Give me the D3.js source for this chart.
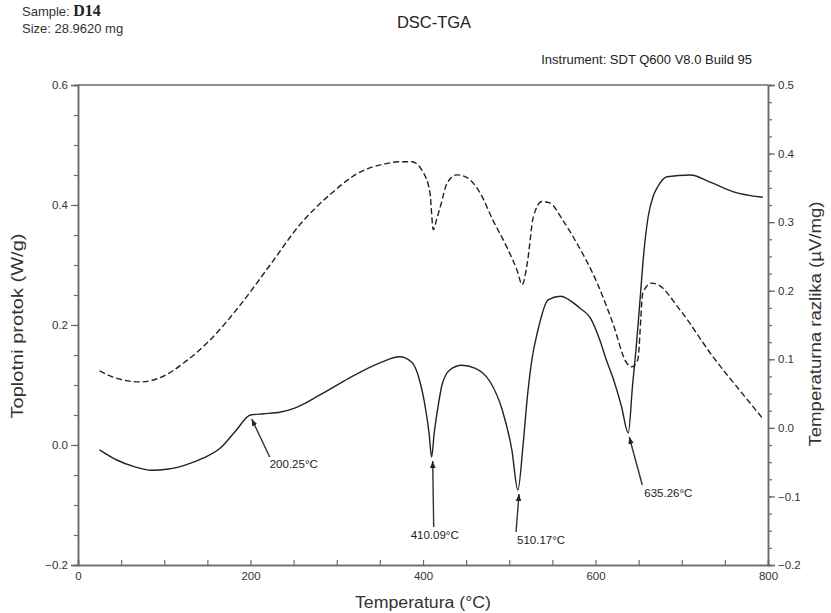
<!DOCTYPE html>
<html>
<head>
<meta charset="utf-8">
<script src="https://cdn.jsdelivr.net/npm/d3@7"></script>
<style>
  html, body { margin: 0; padding: 0; background: #fff; }
  svg { display: block; font-family: "Liberation Sans", Arial, sans-serif; }
</style>
</head>
<body>
<svg id="chart" width="831" height="613"></svg>
<script>
// ---- DATA ----
const dscTemp = [25,45,65,85,105,125,145,165,182,200,215,235,252,280,315,350,373,387,396,403,407,410,413,417,422,431,445,460,478,492,503,510,516,521,526,533,545,559,582,594,605,613,620,630,638,643,647,651,656,661,667,672,683,710,733,760,794];
const heatFlow = [-0.008,-0.025,-0.036,-0.042,-0.04,-0.033,-0.022,-0.005,0.022,0.05,0.052,0.055,0.062,0.083,0.112,0.137,0.147,0.138,0.108,0.06,0.02,-0.02,0.02,0.06,0.1,0.125,0.133,0.128,0.105,0.058,-0.008,-0.075,0.0,0.08,0.14,0.19,0.242,0.248,0.228,0.212,0.175,0.14,0.113,0.065,0.02,0.1,0.16,0.23,0.32,0.38,0.415,0.43,0.447,0.45,0.438,0.422,0.413];

const dtaTemp = [25,43,72,95,124,153,188,223,257,292,327,360,371,387,400,408,412,416,420,428,439,451,466,481,497,509,515,521,528,538,547,562,578,602,620,636,642,649,655,665,672,698,736,767,793];
const tempDiff = [0.083,0.073,0.067,0.073,0.096,0.128,0.179,0.238,0.296,0.34,0.373,0.386,0.388,0.388,0.373,0.343,0.289,0.305,0.322,0.357,0.369,0.365,0.343,0.303,0.264,0.23,0.209,0.241,0.308,0.33,0.328,0.303,0.27,0.211,0.153,0.095,0.089,0.099,0.197,0.211,0.209,0.172,0.104,0.055,0.015];

const xTicks = [0,200,400,600,800];
const leftTicks = [-0.2,0.0,0.2,0.4,0.6];
const rightTicks = [-0.2,-0.1,0.0,0.1,0.2,0.3,0.4,0.5];

const peakLabels = ["200.25°C","410.09°C","510.17°C","635.26°C"];
const peakTemps = [200.25,410.09,510.17,638];
const peakValues = [0.05,-0.02,-0.075,0.02];

// ---- LAYOUT ----
const svg = d3.select("#chart");
const L = 78, R = 768, T = 85, B = 565;
const x = d3.scaleLinear().domain([0,800]).range([L,R]);
const yL = d3.scaleLinear().domain([-0.2,0.6]).range([B,T]);
const yR = d3.scaleLinear().domain([-0.2,0.5]).range([B,T]);
const axisColor = "#6a6a6a", textColor = "#333";

// frame top line
svg.append("line").attr("x1",L).attr("x2",R).attr("y1",T).attr("y2",T).attr("stroke",axisColor).attr("stroke-width",1.5);

// Axes
const fmt = d3.format(".1f");
const gx = svg.append("g").attr("transform",`translate(0,${B})`);
gx.call(d3.axisBottom(x).tickValues(d3.range(0,801,50)).tickSize(-5).tickFormat(""));
gx.append("g").call(d3.axisBottom(x).tickValues(xTicks).tickSize(0).tickPadding(7).tickFormat(d3.format("d")));

const gl = svg.append("g").attr("transform",`translate(${L},0)`);
gl.call(d3.axisLeft(yL).tickValues(d3.range(-0.2,0.6001,0.05)).tickSize(4).tickFormat(""));
gl.append("g").call(d3.axisLeft(yL).tickValues(leftTicks).tickSize(7).tickPadding(3).tickFormat(fmt));

const gr = svg.append("g").attr("transform",`translate(${R},0)`);
gr.call(d3.axisRight(yR).tickValues(d3.range(-0.2,0.5001,0.025)).tickSize(4).tickFormat(""));
gr.append("g").call(d3.axisRight(yR).tickValues(rightTicks).tickSize(7).tickPadding(3).tickFormat(fmt));

svg.selectAll(".domain").attr("stroke",axisColor).attr("stroke-width",1.5);
svg.selectAll(".tick line").attr("stroke",axisColor).attr("stroke-width",1.2);
svg.selectAll(".tick text").attr("fill",textColor).style("font-size","11.5px").style("font-family","Liberation Sans, Arial, sans-serif");

// Curves
const lineL = d3.line().x((d,i)=>x(dscTemp[i])).y(d=>yL(d)).curve(d3.curveMonotoneX);
const lineR = d3.line().x((d,i)=>x(dtaTemp[i])).y(d=>yR(d)).curve(d3.curveMonotoneX);
svg.append("path").attr("d",lineL(heatFlow)).attr("fill","none").attr("stroke","#222").attr("stroke-width",1.4);
svg.append("path").attr("d",lineR(tempDiff)).attr("fill","none").attr("stroke","#222").attr("stroke-width",1.4).attr("stroke-dasharray","6,3");

// Annotations
svg.append("defs").append("marker").attr("id","ah").attr("viewBox","0 0 10 10").attr("refX",10).attr("refY",5)
  .attr("markerWidth",7).attr("markerHeight",7).attr("orient","auto-start-reverse").attr("markerUnits","userSpaceOnUse")
  .append("path").attr("d","M0,1 L10,5 L0,9 Z").attr("fill","#222");
const lineOff = [[18,38],[1,66],[-3,38],[13,48]];
const labOff = [[18,49],[-22,78],[-2,50],[15,60]];
peakLabels.forEach((lab,i)=>{
  const tx = x(peakTemps[i]) + 1, ty = yL(peakValues[i]) + 4;
  svg.append("line").attr("x1",tx+lineOff[i][0]).attr("y1",ty+lineOff[i][1]).attr("x2",tx).attr("y2",ty)
    .attr("stroke","#333").attr("stroke-width",1.4).attr("marker-end","url(#ah)");
  svg.append("text").attr("x",tx+labOff[i][0]).attr("y",ty+labOff[i][1]).text(lab)
    .attr("fill","#222").style("font-size","11.5px");
});

// Texts
svg.append("text").attr("x",22).attr("y",16).attr("fill","#333").style("font-size","13px").text("Sample: ")
  .append("tspan").style("font-family","Liberation Serif, Times New Roman, serif").style("font-weight","bold").style("font-size","16px").attr("fill","#222").text("D14");
svg.append("text").attr("x",22).attr("y",33).attr("fill","#333").style("font-size","13px").text("Size:  28.9620 mg");
svg.append("text").attr("x",434).attr("y",28).attr("text-anchor","middle").attr("fill","#222").style("font-size","16.5px").text("DSC-TGA");
svg.append("text").attr("x",752).attr("y",64).attr("text-anchor","end").attr("fill","#222").style("font-size","13px").text("Instrument: SDT Q600 V8.0 Build 95");
svg.append("text").attr("x",423).attr("y",608).attr("text-anchor","middle").attr("fill",textColor).style("font-size","16px")
  .attr("textLength",136).attr("lengthAdjust","spacingAndGlyphs").text("Temperatura (°C)");
svg.append("text").attr("transform","translate(23,326) rotate(-90)").attr("text-anchor","middle").attr("fill",textColor).style("font-size","16px")
  .attr("textLength",185).attr("lengthAdjust","spacingAndGlyphs").text("Toplotni protok (W/g)");
svg.append("text").attr("transform","translate(821,324) rotate(-90)").attr("text-anchor","middle").attr("fill",textColor).style("font-size","16px")
  .attr("textLength",245).attr("lengthAdjust","spacingAndGlyphs").text("Temperaturna razlika (µV/mg)");
</script>
</body>
</html>
